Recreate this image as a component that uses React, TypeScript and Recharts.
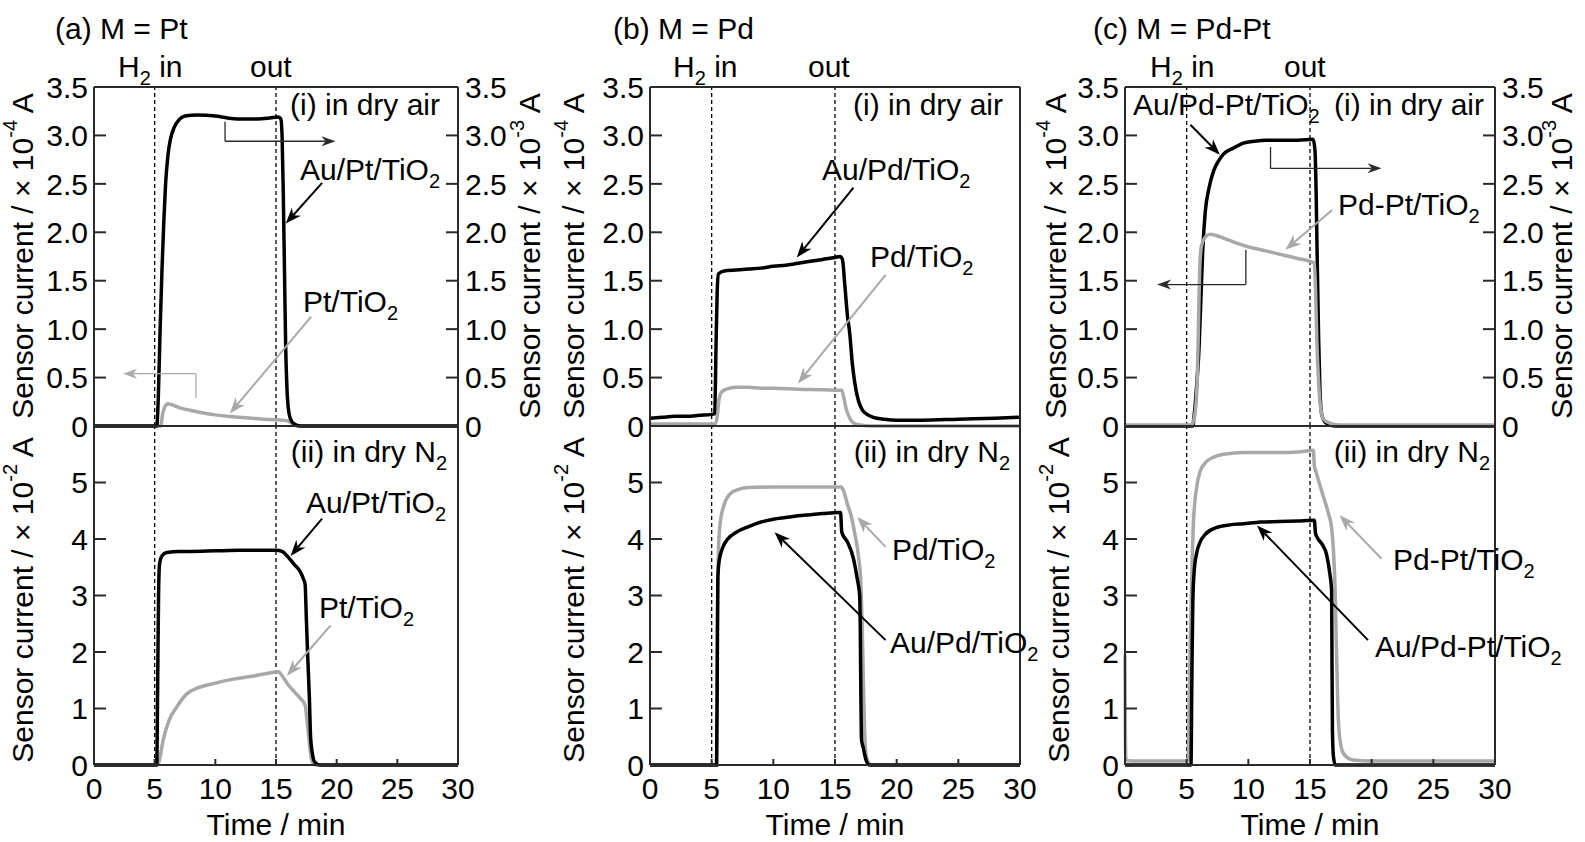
import React from 'react';
import { LineChart, Line, XAxis, YAxis, ReferenceLine } from 'recharts';

const FONT = "'Liberation Sans', Arial, Helvetica, sans-serif";
const BLACK = '#000000';
const GREY = '#a8a8a8';
const AXIS = '#2a2a2a';

// ---------- ticks ----------
const timeTicks = [0, 5, 10, 15, 20, 25, 30];
const airTicks = [0, 0.5, 1, 1.5, 2, 2.5, 3, 3.5];
const n2Ticks = [0, 1, 2, 3, 4, 5];
const gasMarks = [5, 15];

type P = [number, number];

// ---------- (a) M = Pt ----------
const aAirAuPt: P[] = [
  [0, 0], [5.17, 0], [5.3, 0.3], [5.45, 1.0], [5.6, 1.6], [5.75, 2.1], [5.9, 2.5], [6.1, 2.8], [6.3, 2.96],
  [6.6, 3.08], [7.0, 3.16], [7.5, 3.2], [8.5, 3.21], [10, 3.2], [11, 3.18], [12, 3.17], [13.5, 3.17],
  [14.5, 3.18], [15.2, 3.19], [15.4, 3.17], [15.5, 3.0], [15.6, 2.4], [15.7, 1.6], [15.8, 0.8], [15.9, 0.4],
  [16.0, 0.2], [16.2, 0.07], [16.5, 0.02], [17, 0], [30, 0],
];
const aAirPt: P[] = [
  [0, 0], [5.5, 0], [5.65, 0.12], [5.85, 0.2], [6.1, 0.23], [6.4, 0.22], [7, 0.19], [8, 0.16], [9, 0.135],
  [10, 0.115], [11, 0.1], [12, 0.09], [13, 0.08], [14, 0.07], [15, 0.065], [15.5, 0.06], [16, 0.05],
  [16.4, 0.02], [16.8, 0], [30, 0],
];
const aN2AuPt: P[] = [
  [0, 0], [5.17, 0], [5.25, 1.5], [5.32, 3.0], [5.4, 3.55], [5.6, 3.7], [6, 3.76], [7, 3.78], [8, 3.78],
  [10, 3.79], [12, 3.8], [14, 3.8], [15, 3.8], [15.5, 3.78], [16, 3.68], [16.5, 3.55], [17, 3.42],
  [17.25, 3.3], [17.4, 3.2], [17.5, 2.6], [17.6, 2.0], [17.75, 1.2], [17.85, 0.5], [18, 0.2], [18.2, 0.05],
  [18.6, 0], [30, 0],
];
const aN2Pt: P[] = [
  [0, 0], [5.25, 0], [5.4, 0.1], [5.7, 0.44], [6.2, 0.8], [6.8, 1.02], [7.6, 1.25], [8.5, 1.36], [10, 1.45],
  [11.5, 1.52], [13, 1.57], [14.5, 1.63], [15.2, 1.65], [15.5, 1.58], [16, 1.42], [16.5, 1.3], [17, 1.18],
  [17.4, 1.06], [17.55, 0.8], [17.7, 0.5], [17.85, 0.2], [18, 0.05], [18.3, 0], [30, 0],
];

// ---------- (b) M = Pd ----------
const bAirAuPd: P[] = [
  [0, 0.08], [1, 0.09], [2, 0.1], [3, 0.1], [4, 0.11], [5.0, 0.12], [5.25, 0.13], [5.35, 0.8], [5.45, 1.4],
  [5.55, 1.57], [6, 1.6], [7, 1.61], [8, 1.62], [9, 1.63], [10, 1.65], [11, 1.66], [12, 1.68], [13, 1.7],
  [14, 1.72], [15, 1.74], [15.4, 1.75], [15.6, 1.72], [15.8, 1.45], [16.0, 1.15], [16.2, 0.95], [16.4, 0.65],
  [16.6, 0.45], [16.9, 0.26], [17.2, 0.17], [17.6, 0.12], [18.1, 0.09], [19, 0.07], [20, 0.06], [22, 0.06],
  [25, 0.07], [28, 0.08], [30, 0.09],
];
const bAirPd: P[] = [
  [0, 0.02], [5.3, 0.02], [5.45, 0.1], [5.6, 0.28], [5.8, 0.35], [6.2, 0.38], [7, 0.4], [8, 0.4], [9, 0.39],
  [10, 0.39], [12, 0.38], [14, 0.375], [15.3, 0.37], [15.55, 0.37], [15.7, 0.3], [15.9, 0.18], [16.2, 0.08],
  [16.5, 0.03], [17, 0.01], [18, 0], [30, 0],
];
const bN2AuPd: P[] = [
  [0, 0], [5.4, 0], [5.45, 1.5], [5.5, 3.3], [5.6, 3.6], [5.9, 3.85], [6.3, 4.0], [7, 4.12], [8, 4.22],
  [9, 4.3], [10, 4.35], [11, 4.38], [12, 4.41], [13, 4.43], [14, 4.45], [15.3, 4.47], [15.45, 4.47],
  [15.55, 4.12], [16, 3.95], [16.5, 3.65], [16.8, 3.3], [17, 3.0], [17.05, 2.4], [17.1, 1.2], [17.15, 0.45],
  [17.3, 0.3], [17.5, 0.1], [17.8, 0], [30, 0],
];
const bN2Pd: P[] = [
  [0, 0], [5.4, 0], [5.45, 2.0], [5.55, 3.8], [5.7, 4.3], [6.0, 4.6], [6.5, 4.8], [7.2, 4.88], [8, 4.91],
  [10, 4.92], [12, 4.92], [14, 4.92], [15.5, 4.92], [15.7, 4.85], [16, 4.62], [16.3, 4.42], [16.6, 4.1],
  [16.9, 3.7], [17.1, 3.2], [17.2, 2.5], [17.3, 1.5], [17.4, 0.6], [17.55, 0.15], [17.8, 0.02], [18, 0], [30, 0],
];

// ---------- (c) M = Pd-Pt ----------
const cAirAuPdPt: P[] = [
  [0, 0], [5.5, 0], [5.6, 0.1], [5.8, 0.4], [6.0, 0.8], [6.15, 1.3], [6.3, 1.8], [6.5, 2.2], [6.8, 2.45],
  [7.2, 2.64], [7.6, 2.74], [8, 2.81], [8.8, 2.87], [9.6, 2.92], [10.5, 2.94], [11.5, 2.95], [13, 2.95],
  [14, 2.95], [15.25, 2.96], [15.4, 2.85], [15.5, 2.4], [15.6, 1.6], [15.7, 0.9], [15.8, 0.4], [15.95, 0.12],
  [16.3, 0.03], [17, 0], [30, 0],
];
const cAirPdPt: P[] = [
  [0, 0.01], [5.4, 0.01], [5.55, 0.05], [5.7, 0.15], [5.85, 0.45], [5.95, 1.0], [6.05, 1.6], [6.2, 1.86],
  [6.5, 1.95], [6.9, 1.98], [7.3, 1.97], [8, 1.94], [9, 1.89], [10, 1.85], [11, 1.82], [12, 1.79], [13, 1.76],
  [14, 1.73], [15, 1.7], [15.35, 1.68], [15.45, 1.4], [15.55, 0.9], [15.7, 0.45], [15.85, 0.2], [16.1, 0.07],
  [16.6, 0.03], [17.5, 0.01], [30, 0.01],
];
const cN2AuPdPt: P[] = [
  [0, 0], [5.35, 0], [5.42, 1.5], [5.5, 2.9], [5.6, 3.4], [5.8, 3.74], [6.1, 3.95], [6.5, 4.08], [7.4, 4.2],
  [8.5, 4.25], [9.6, 4.27], [11, 4.3], [12.5, 4.31], [14, 4.32], [15.35, 4.33], [15.45, 4.1], [15.6, 4.02],
  [16, 3.9], [16.35, 3.72], [16.6, 3.4], [16.75, 3.1], [16.78, 2.0], [16.82, 0.6], [16.9, 0.15], [17.05, 0],
  [30, 0],
];
const cN2PdPt: P[] = [
  [0, 1.95], [0.03, 0.5], [0.08, 0.08], [1, 0.07], [3, 0.07], [5.0, 0.07], [5.12, 0.1], [5.2, 1.0], [5.3, 2.3],
  [5.4, 3.2], [5.55, 4.3], [5.8, 4.9], [6.1, 5.2], [6.6, 5.37], [7.2, 5.45], [8, 5.5], [9.6, 5.53], [11, 5.53],
  [12.5, 5.53], [14, 5.54], [15.27, 5.57], [15.35, 5.3], [15.5, 5.18], [16.1, 4.74], [16.5, 4.45], [16.75, 4.2],
  [16.9, 3.8], [17.03, 3.15], [17.15, 2.0], [17.3, 0.8], [17.5, 0.35], [17.7, 0.21], [18.1, 0.12], [18.5, 0.09],
  [20, 0.07], [30, 0.07],
];

// ---------- annotation arrows (data coordinates) ----------
type Arrow = { from: P; to: P; color: string; w: number; head: boolean };
const aAirArrows: Arrow[] = [
  { from: [18.8, 2.51], to: [15.8, 2.09], color: BLACK, w: 2, head: true },
  { from: [10.8, 3.14], to: [10.8, 2.94], color: AXIS, w: 1.3, head: false },
  { from: [10.8, 2.94], to: [19.9, 2.94], color: AXIS, w: 1.3, head: true },
  { from: [8.4, 0.29], to: [8.4, 0.54], color: GREY, w: 1.3, head: false },
  { from: [8.4, 0.54], to: [2.4, 0.54], color: GREY, w: 1.3, head: true },
  { from: [17.9, 1.13], to: [11.2, 0.13], color: GREY, w: 2, head: true },
];
const aN2Arrows: Arrow[] = [
  { from: [18.8, 4.36], to: [16.2, 3.7], color: BLACK, w: 2, head: true },
  { from: [19.5, 2.47], to: [15.9, 1.58], color: GREY, w: 2, head: true },
];
const bAirArrows: Arrow[] = [
  { from: [16.5, 2.46], to: [11.9, 1.74], color: BLACK, w: 2, head: true },
  { from: [19.1, 1.56], to: [12.0, 0.44], color: GREY, w: 2, head: true },
];
const bN2Arrows: Arrow[] = [
  { from: [19.1, 3.86], to: [16.8, 4.39], color: GREY, w: 2, head: true },
  { from: [19.1, 2.21], to: [10.1, 4.12], color: BLACK, w: 2, head: true },
];
const cAirArrows: Arrow[] = [
  { from: [5.3, 3.11], to: [7.7, 2.8], color: BLACK, w: 2, head: true },
  { from: [11.8, 2.88], to: [11.8, 2.66], color: AXIS, w: 1.3, head: false },
  { from: [11.8, 2.66], to: [20.8, 2.66], color: AXIS, w: 1.3, head: true },
  { from: [9.8, 1.82], to: [9.8, 1.46], color: AXIS, w: 1.3, head: false },
  { from: [9.8, 1.46], to: [2.6, 1.46], color: AXIS, w: 1.3, head: true },
  { from: [16.8, 2.23], to: [13.0, 1.82], color: GREY, w: 2, head: true },
];
const cN2Arrows: Arrow[] = [
  { from: [20.8, 3.65], to: [17.4, 4.42], color: GREY, w: 2, head: true },
  { from: [19.7, 2.21], to: [10.7, 4.24], color: BLACK, w: 2, head: true },
];

const toData = (a: P[]) => a.map(([t, v]) => ({ t, v }));

const arrowShape = (color: string, w: number, head: boolean) => (p: any) => {
  const { x1, y1, x2, y2 } = p;
  if ([x1, y1, x2, y2].some((v) => typeof v !== 'number' || isNaN(v))) return <g />;
  const dx = x2 - x1;
  const dy = y2 - y1;
  const L = Math.hypot(dx, dy) || 1;
  const ux = dx / L;
  const uy = dy / L;
  const hl = w > 1.5 ? 16 : 14;
  const hw = w > 1.5 ? 6 : 5;
  const bx = x2 - ux * hl;
  const by = y2 - uy * hl;
  const px = -uy * hw;
  const py = ux * hw;
  const nx = bx + ux * hl * 0.3;
  const ny = by + uy * hl * 0.3;
  return (
    <g>
      <line x1={x1} y1={y1} x2={head ? nx : x2} y2={head ? ny : y2} stroke={color} strokeWidth={w} />
      {head && (
        <polygon points={`${x2},${y2} ${bx + px},${by + py} ${nx},${ny} ${bx - px},${by - py}`} fill={color} />
      )}
    </g>
  );
};

type Series = { data: P[]; color: string; axis: 'l' | 'r' };

const fmtAir = (v: number) => (v === 0 ? '0' : v.toFixed(1));
const fmtN2 = (v: number) => String(v);
const tickStyle = { fontSize: 30, fill: '#000', fontFamily: FONT };

function Plot(props: {
  plotL: number; plotR: number; plotT: number; plotB: number;
  yMax: number; yTicks: number[]; fmt: (v: number) => string;
  series: Series[]; rightLabels: boolean; xLabels: boolean; arrows: Arrow[];
}) {
  const { plotL, plotR, plotT, plotB, yMax, yTicks, fmt, series, rightLabels, xLabels, arrows } = props;
  const LW = 90;
  const RW = 70;
  const TH = 4;
  const MT = 16;
  const BH = xLabels ? 60 : 40;
  const width = plotR - plotL + LW + RW;
  const height = plotB - plotT + MT + TH + BH;
  const axisLine = { stroke: AXIS, strokeWidth: 2 };
  return (
    <div style={{ position: 'absolute', left: plotL - LW, top: plotT - MT - TH }}>
      <LineChart width={width} height={height} margin={{ top: MT, right: 0, bottom: 0, left: 0 }}>
        <XAxis
          xAxisId="b" type="number" dataKey="t" domain={[0, 30]} ticks={timeTicks} interval={0}
          orientation="bottom" height={BH} tickSize={-6} tickMargin={xLabels ? 19 : 0}
          tick={xLabels ? tickStyle : false} axisLine={axisLine} tickLine={axisLine}
        />
        <XAxis
          xAxisId="top" type="number" dataKey="t" domain={[0, 30]} orientation="top" height={TH}
          tick={false} tickLine={false} axisLine={axisLine}
        />
        <YAxis
          yAxisId="l" type="number" domain={[0, yMax]} ticks={yTicks} interval={0} width={LW}
          tickSize={-12} tickMargin={18} tickFormatter={fmt} tick={tickStyle}
          axisLine={axisLine} tickLine={axisLine}
        />
        <YAxis
          yAxisId="r" type="number" orientation="right" domain={[0, yMax]} ticks={yTicks} interval={0}
          width={RW} tickSize={rightLabels ? -12 : 0} tickMargin={rightLabels ? 19 : 0}
          tickFormatter={fmt} tick={rightLabels ? tickStyle : false}
          tickLine={rightLabels ? axisLine : false} axisLine={axisLine}
        />
        {gasMarks.map((g) => (
          <ReferenceLine
            key={'g' + g} xAxisId="b" yAxisId="l" x={g} stroke="#000" strokeWidth={1.3} strokeDasharray="4 3"
          />
        ))}
        {series.map((s, i) => (
          <Line
            key={'s' + i} xAxisId="b" yAxisId={s.axis} data={toData(s.data)} dataKey="v" type="monotone"
            stroke={s.color} strokeWidth={3.5} dot={false} activeDot={false} isAnimationActive={false}
          />
        ))}
        {arrows.map((a, i) => (
          <ReferenceLine
            key={'a' + i} xAxisId="b" yAxisId="l" ifOverflow="visible"
            segment={[{ x: a.from[0], y: a.from[1] }, { x: a.to[0], y: a.to[1] }]}
            stroke={a.color} strokeWidth={a.w} shape={arrowShape(a.color, a.w, a.head)}
          />
        ))}
      </LineChart>
    </div>
  );
}

// ---------- text helpers ----------
const FS = 30;
const SUB = 20;
function Chem({ x, y, base, sub, tail, anchor }: { x: number; y: number; base: string; sub: string; tail?: string; anchor?: 'start' | 'end' | 'middle' }) {
  return (
    <text x={x} y={y} fontSize={FS} textAnchor={anchor || 'start'} fill="#000">
      {base}
      <tspan dy={8} fontSize={SUB}>{sub}</tspan>
      {tail ? <tspan dy={-8} fontSize={FS}>{tail}</tspan> : null}
    </text>
  );
}
function T({ x, y, s, anchor }: { x: number; y: number; s: string; anchor?: 'start' | 'end' | 'middle' }) {
  return (
    <text x={x} y={y} fontSize={FS} textAnchor={anchor || 'start'} fill="#000">{s}</text>
  );
}
function YLabel({ cx, cy, exp }: { cx: number; cy: number; exp: string }) {
  return (
    <text
      x={cx} y={cy} fontSize={FS} textAnchor="middle" dominantBaseline="central" fill="#000"
      transform={`rotate(-90 ${cx} ${cy})`}
    >
      {'Sensor current / \u00d7 10'}
      <tspan dy={-12} fontSize={SUB}>{exp}</tspan>
      <tspan dy={12} fontSize={FS}>{' A'}</tspan>
    </text>
  );
}

const panels = [
  { L: 94, R: 458 },
  { L: 650, R: 1020 },
  { L: 1125, R: 1495 },
];
const TOP = 87;
const MID = 426;
const BOT = 765;

export default function App() {
  return (
    <div style={{ position: 'absolute', left: 0, top: 0, width: 1585, height: 842, background: '#fff', fontFamily: FONT, overflow: 'hidden' }}>
      {/* (a) */}
      <Plot plotL={panels[0].L} plotR={panels[0].R} plotT={TOP} plotB={MID} yMax={3.5} yTicks={airTicks} fmt={fmtAir}
        series={[{ data: aAirPt, color: GREY, axis: 'l' }, { data: aAirAuPt, color: BLACK, axis: 'r' }]}
        rightLabels xLabels={false} arrows={aAirArrows} />
      <Plot plotL={panels[0].L} plotR={panels[0].R} plotT={MID} plotB={BOT} yMax={6} yTicks={n2Ticks} fmt={fmtN2}
        series={[{ data: aN2Pt, color: GREY, axis: 'l' }, { data: aN2AuPt, color: BLACK, axis: 'l' }]}
        rightLabels={false} xLabels arrows={aN2Arrows} />
      {/* (b) */}
      <Plot plotL={panels[1].L} plotR={panels[1].R} plotT={TOP} plotB={MID} yMax={3.5} yTicks={airTicks} fmt={fmtAir}
        series={[{ data: bAirPd, color: GREY, axis: 'l' }, { data: bAirAuPd, color: BLACK, axis: 'l' }]}
        rightLabels={false} xLabels={false} arrows={bAirArrows} />
      <Plot plotL={panels[1].L} plotR={panels[1].R} plotT={MID} plotB={BOT} yMax={6} yTicks={n2Ticks} fmt={fmtN2}
        series={[{ data: bN2Pd, color: GREY, axis: 'l' }, { data: bN2AuPd, color: BLACK, axis: 'l' }]}
        rightLabels={false} xLabels arrows={bN2Arrows} />
      {/* (c) */}
      <Plot plotL={panels[2].L} plotR={panels[2].R} plotT={TOP} plotB={MID} yMax={3.5} yTicks={airTicks} fmt={fmtAir}
        series={[{ data: cAirAuPdPt, color: BLACK, axis: 'r' }, { data: cAirPdPt, color: GREY, axis: 'l' }]}
        rightLabels xLabels={false} arrows={cAirArrows} />
      <Plot plotL={panels[2].L} plotR={panels[2].R} plotT={MID} plotB={BOT} yMax={6} yTicks={n2Ticks} fmt={fmtN2}
        series={[{ data: cN2PdPt, color: GREY, axis: 'l' }, { data: cN2AuPdPt, color: BLACK, axis: 'l' }]}
        rightLabels={false} xLabels arrows={cN2Arrows} />

      <svg width={1585} height={842} style={{ position: 'absolute', left: 0, top: 0, pointerEvents: 'none', fontFamily: FONT }}>
        {/* titles */}
        <T x={55} y={39} s="(a) M = Pt" />
        <T x={613} y={39} s="(b) M = Pd" />
        <T x={1093} y={39} s="(c) M = Pd-Pt" />
        {/* gas markers */}
        <Chem x={118} y={77} base="H" sub="2" tail=" in" />
        <T x={250} y={77} s="out" />
        <Chem x={673} y={77} base="H" sub="2" tail=" in" />
        <T x={808} y={77} s="out" />
        <Chem x={1150} y={77} base="H" sub="2" tail=" in" />
        <T x={1284} y={77} s="out" />

        {/* (a) labels */}
        <T x={440} y={115} s="(i) in dry air" anchor="end" />
        <Chem x={300} y={180} base="Au/Pt/TiO" sub="2" />
        <Chem x={303} y={312} base="Pt/TiO" sub="2" />
        <Chem x={447} y={462} base="(ii) in dry N" sub="2" anchor="end" />
        <Chem x={306} y={513} base="Au/Pt/TiO" sub="2" />
        <Chem x={319} y={618} base="Pt/TiO" sub="2" />

        {/* (b) labels */}
        <T x={1003} y={115} s="(i) in dry air" anchor="end" />
        <Chem x={822} y={180} base="Au/Pd/TiO" sub="2" />
        <Chem x={870} y={267} base="Pd/TiO" sub="2" />
        <Chem x={1010} y={462} base="(ii) in dry N" sub="2" anchor="end" />
        <Chem x={892} y={560} base="Pd/TiO" sub="2" />
        <Chem x={890} y={653} base="Au/Pd/TiO" sub="2" />

        {/* (c) labels */}
        <Chem x={1133} y={115} base="Au/Pd-Pt/TiO" sub="2" />
        <T x={1484} y={115} s="(i) in dry air" anchor="end" />
        <Chem x={1338} y={215} base="Pd-Pt/TiO" sub="2" />
        <Chem x={1490} y={462} base="(ii) in dry N" sub="2" anchor="end" />
        <Chem x={1393} y={570} base="Pd-Pt/TiO" sub="2" />
        <Chem x={1375} y={657} base="Au/Pd-Pt/TiO" sub="2" />

        {/* axis titles */}
        <YLabel cx={22} cy={256} exp="-4" />
        <YLabel cx={22} cy={600} exp="-2" />
        <YLabel cx={529} cy={256} exp="-3" />
        <YLabel cx={573} cy={256} exp="-4" />
        <YLabel cx={573} cy={600} exp="-2" />
        <YLabel cx={1055} cy={256} exp="-4" />
        <YLabel cx={1058} cy={600} exp="-2" />
        <YLabel cx={1561} cy={256} exp="-3" />
        <T x={276} y={835} s="Time / min" anchor="middle" />
        <T x={835} y={835} s="Time / min" anchor="middle" />
        <T x={1310} y={835} s="Time / min" anchor="middle" />
      </svg>
    </div>
  );
}
